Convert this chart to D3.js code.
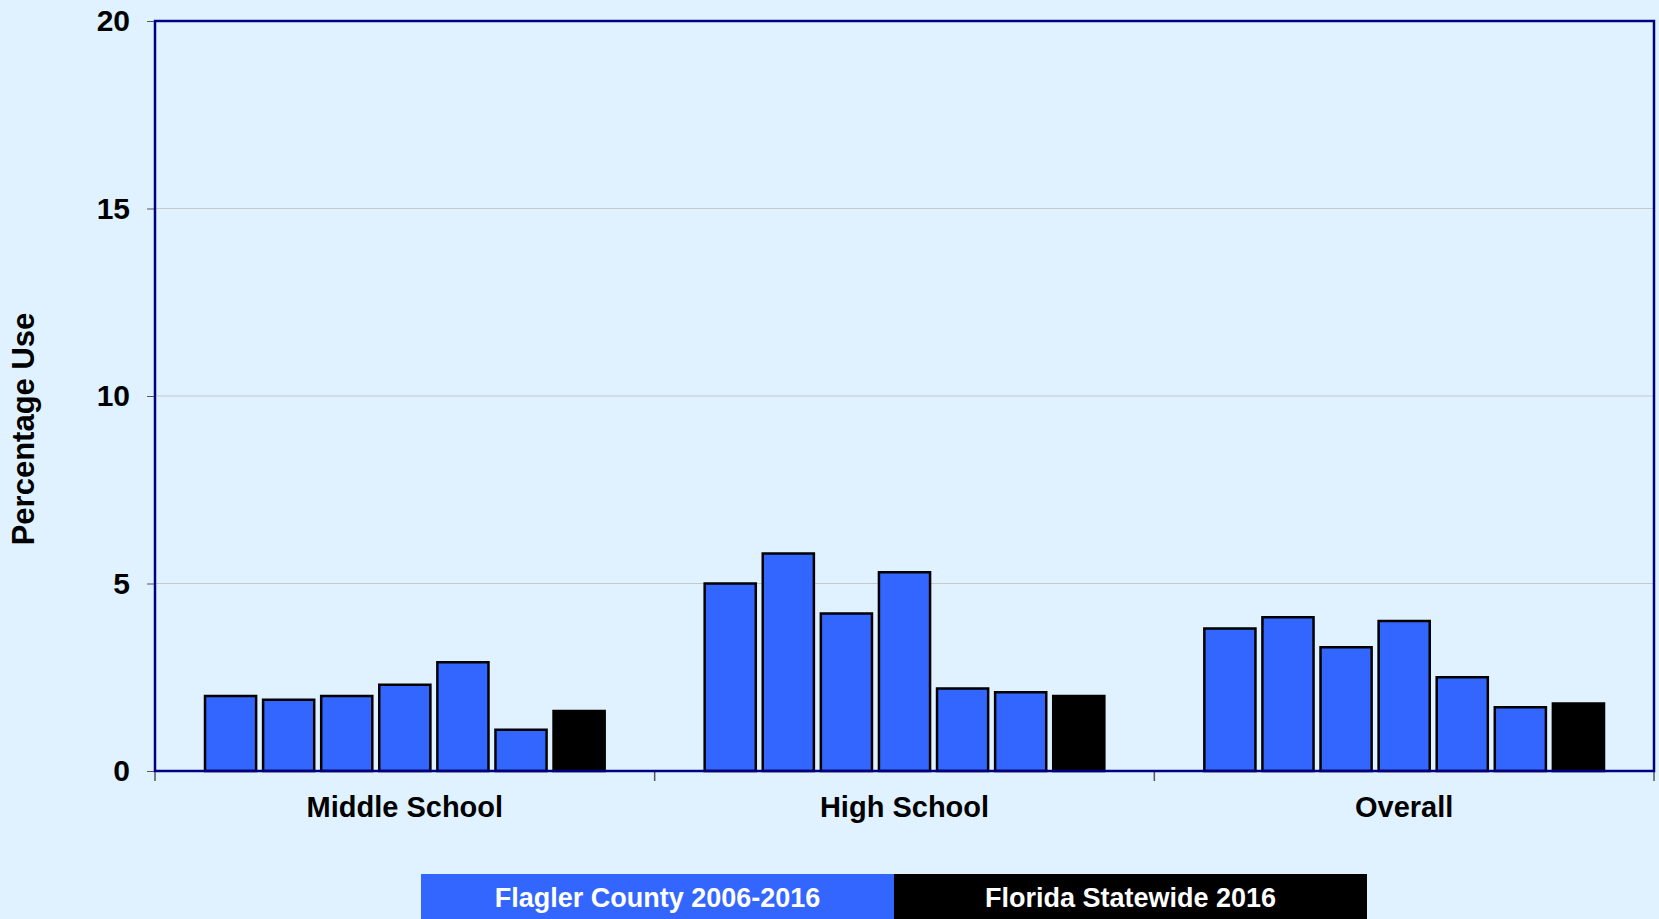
<!DOCTYPE html>
<html>
<head>
<meta charset="utf-8">
<script src="https://cdn.jsdelivr.net/npm/d3@7"></script>
<style>
  html, body { margin: 0; padding: 0; background: #e0f2ff; }
</style>
</head>
<body>
<div id="chart"></div>
<script>
var categories = ["Middle School", "High School", "Overall"];
var flaglerYears = ["2006", "2008", "2010", "2012", "2014", "2016"];
// one row per category, one value per survey year
var flaglerValues = [
    [2.0, 1.9, 2.0, 2.3, 2.9, 1.1],
    [5.0, 5.8, 4.2, 5.3, 2.2, 2.1],
    [3.8, 4.1, 3.3, 4.0, 2.5, 1.7]
];
var statewideValues = [1.6, 2.0, 1.8];
var yTicks = [0, 5, 10, 15, 20];
var legendLabels = ["Flagler County 2006-2016", "Florida Statewide 2016"];
var yTitle = "Percentage Use";

var W = 1659, H = 919;
var plotLeft = 155, plotRight = 1654, plotTop = 21, plotBottom = 771;
var blue = "#3366ff", navy = "#000080";

var seriesKeys = flaglerYears.map(function(y) { return "Flagler " + y; }).concat(["Statewide 2016"]);

var rows = categories.map(function(c, i) {
    var vals = flaglerValues[i].map(function(v, j) {
        return { key: seriesKeys[j], value: v, color: blue };
    });
    vals.push({ key: "Statewide 2016", value: statewideValues[i], color: "#000000" });
    return { category: c, values: vals };
});

var svg = d3.select("#chart")
  .append("svg")
  .attr("width", W)
  .attr("height", H);

svg.append("rect")
  .attr("width", W)
  .attr("height", H)
  .attr("fill", "#e0f2ff");

var x0 = d3.scaleBand()
  .domain(categories)
  .range([plotLeft, plotRight])
  .padding(0);

var x1 = d3.scaleBand()
  .domain(seriesKeys)
  .range([50, x0.bandwidth() - 50])
  .paddingInner(0.12)
  .paddingOuter(0);

var y = d3.scaleLinear()
  .domain([0, 20])
  .range([plotBottom, plotTop]);

// gridlines
svg.append("g")
  .selectAll("line")
  .data(yTicks.filter(function(t) { return t > 0 && t < 20; }))
  .join("line")
  .attr("x1", plotLeft)
  .attr("x2", plotRight)
  .attr("y1", function(d) { return y(d); })
  .attr("y2", function(d) { return y(d); })
  .attr("stroke", "#c8c8c8")
  .attr("stroke-width", 1);

// y axis
var yAxis = svg.append("g")
  .attr("transform", "translate(" + plotLeft + ",0)")
  .call(d3.axisLeft(y).tickValues(yTicks).tickSize(8).tickPadding(17));

yAxis.select(".domain").remove();
yAxis.selectAll(".tick line")
  .attr("stroke", "#555555");
yAxis.selectAll(".tick text")
  .attr("fill", "#000000")
  .attr("font-family", "Liberation Sans, Arial, sans-serif")
  .attr("font-weight", "bold")
  .style("font-size", "30px");

// x axis labels
var xAxis = svg.append("g")
  .attr("transform", "translate(0," + plotBottom + ")")
  .call(d3.axisBottom(x0).tickSize(0).tickPadding(25));

xAxis.select(".domain").remove();
xAxis.selectAll(".tick text")
  .attr("fill", "#000000")
  .attr("font-family", "Liberation Sans, Arial, sans-serif")
  .attr("font-weight", "bold")
  .style("font-size", "29px");

// category boundary ticks
svg.append("g")
  .selectAll("line")
  .data(categories.map(function(c) { return x0(c); }).concat([plotRight]))
  .join("line")
  .attr("x1", function(d) { return d; })
  .attr("x2", function(d) { return d; })
  .attr("y1", plotBottom)
  .attr("y2", plotBottom + 10)
  .attr("stroke", "#555555")
  .attr("stroke-width", 1.5);

// bars
var groups = svg.append("g")
  .selectAll("g")
  .data(rows)
  .join("g")
  .attr("transform", function(d) { return "translate(" + x0(d.category) + ",0)"; });

groups.selectAll("rect")
  .data(function(d) { return d.values; })
  .join("rect")
  .attr("x", function(d) { return x1(d.key); })
  .attr("y", function(d) { return y(d.value); })
  .attr("width", x1.bandwidth())
  .attr("height", function(d) { return plotBottom - y(d.value); })
  .attr("fill", function(d) { return d.color; })
  .attr("stroke", "#000000")
  .attr("stroke-width", 2.5);

// plot frame
svg.append("rect")
  .attr("x", plotLeft)
  .attr("y", plotTop)
  .attr("width", plotRight - plotLeft)
  .attr("height", plotBottom - plotTop)
  .attr("fill", "none")
  .attr("stroke", navy)
  .attr("stroke-width", 2.5);

// y title
svg.append("text")
  .attr("transform", "translate(34," + 429 + ") rotate(-90)")
  .attr("text-anchor", "middle")
  .attr("fill", "#000000")
  .attr("font-family", "Liberation Sans, Arial, sans-serif")
  .attr("font-weight", "bold")
  .style("font-size", "31px")
  .text(yTitle);

// legend boxes
var legendColors = [blue, "#000000"];
var legendX = 421, legendW = 473, legendY = 874;

var lg = svg.append("g")
  .selectAll("g")
  .data(legendLabels)
  .join("g")
  .attr("transform", function(d, i) { return "translate(" + (legendX + i * legendW) + "," + legendY + ")"; });

lg.append("rect")
  .attr("width", legendW)
  .attr("height", H - legendY)
  .attr("fill", function(d, i) { return legendColors[i]; });

lg.append("text")
  .attr("x", legendW / 2)
  .attr("y", 33)
  .attr("text-anchor", "middle")
  .attr("fill", "#ffffff")
  .attr("font-family", "Liberation Sans, Arial, sans-serif")
  .attr("font-weight", "bold")
  .style("font-size", "27px")
  .text(function(d) { return d; });
</script>
</body>
</html>
